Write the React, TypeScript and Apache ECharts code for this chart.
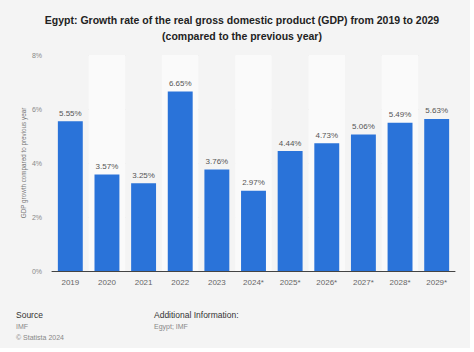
import React, { useEffect, useRef } from "react";
import * as echarts from "echarts";

const categories = ["2019", "2020", "2021", "2022", "2023", "2024*", "2025*", "2026*", "2027*", "2028*", "2029*"];
const growthValues = [5.55, 3.57, 3.25, 6.65, 3.76, 2.97, 4.44, 4.73, 5.06, 5.49, 5.63];
const yTicks = [0, 2, 4, 6, 8];

export default function App() {
  const ref = useRef<HTMLDivElement>(null);
  useEffect(() => {
    document.body.style.margin = "0";
    const chart = echarts.init(ref.current!, null, { renderer: "svg" });
    const font = "Arial, 'Liberation Sans', sans-serif";
    chart.setOption({
      animation: false,
      backgroundColor: "#f4f4f4",
      textStyle: { fontFamily: font },
      title: {
        text: "Egypt: Growth rate of the real gross domestic product (GDP) from 2019 to 2029\n(compared to the previous year)",
        left: 237,
        textAlign: "center",
        top: 7,
        textStyle: { fontSize: 10.5, fontWeight: "bold", color: "#222", lineHeight: 16, fontFamily: font },
      },
      grid: { left: 52, right: 19, top: 55, bottom: 81, containLabel: false },
      xAxis: {
        type: "category",
        data: categories,
        axisLine: { show: true, lineStyle: { color: "#444", width: 1 } },
        axisTick: { show: false },
        axisLabel: { color: "#666", fontSize: 8, margin: 7, fontFamily: font },
        splitArea: { show: true, areaStyle: { color: ["#f4f4f4", "#fafafa"] } },
      },
      yAxis: {
        type: "value",
        min: 0,
        max: 8,
        interval: 2,
        name: "GDP growth compared to previous year",
        nameLocation: "middle",
        nameGap: 26,
        nameMoveOverlap: false,
        nameTextStyle: { color: "#777", fontSize: 6.3, fontFamily: font },
        axisLine: { show: false },
        axisTick: { show: false },
        axisLabel: {
          color: "#888",
          fontSize: 7,
          margin: 10,
          fontFamily: font,
          formatter: (v: number) => (yTicks.includes(v) ? v + "%" : ""),
        },
        splitLine: { show: true, lineStyle: { color: "#e2e2e2", width: 1 } },
      },
      series: [
        {
          type: "bar",
          data: growthValues,
          barWidth: "68%",
          itemStyle: { color: "#2a73d9" },
          label: {
            show: true,
            position: "top",
            distance: 4,
            color: "#555",
            fontSize: 8,
            fontFamily: font,
            formatter: (p: any) => p.value.toFixed(2) + "%",
          },
        },
      ],
      graphic: [
        { type: "rect", shape: { x: 470, y: 0, width: 4, height: 352 }, style: { fill: "#ffffff" } },
        { type: "rect", shape: { x: 0, y: 348, width: 474, height: 4 }, style: { fill: "#ffffff" } },
        { type: "text", left: 16, top: 310, style: { text: "Source", fill: "#333", fontSize: 8.5, fontFamily: font } },
        { type: "text", left: 16, top: 323, style: { text: "IMF", fill: "#888", fontSize: 7, fontFamily: font } },
        { type: "text", left: 16, top: 334, style: { text: "© Statista 2024", fill: "#888", fontSize: 7, fontFamily: font } },
        { type: "text", left: 154, top: 310, style: { text: "Additional Information:", fill: "#333", fontSize: 8.5, fontFamily: font } },
        { type: "text", left: 154, top: 323, style: { text: "Egypt; IMF", fill: "#888", fontSize: 7, fontFamily: font } },
      ],
    });
    return () => chart.dispose();
  }, []);
  return <div ref={ref} style={{ width: 474, height: 352 }} />;
}
